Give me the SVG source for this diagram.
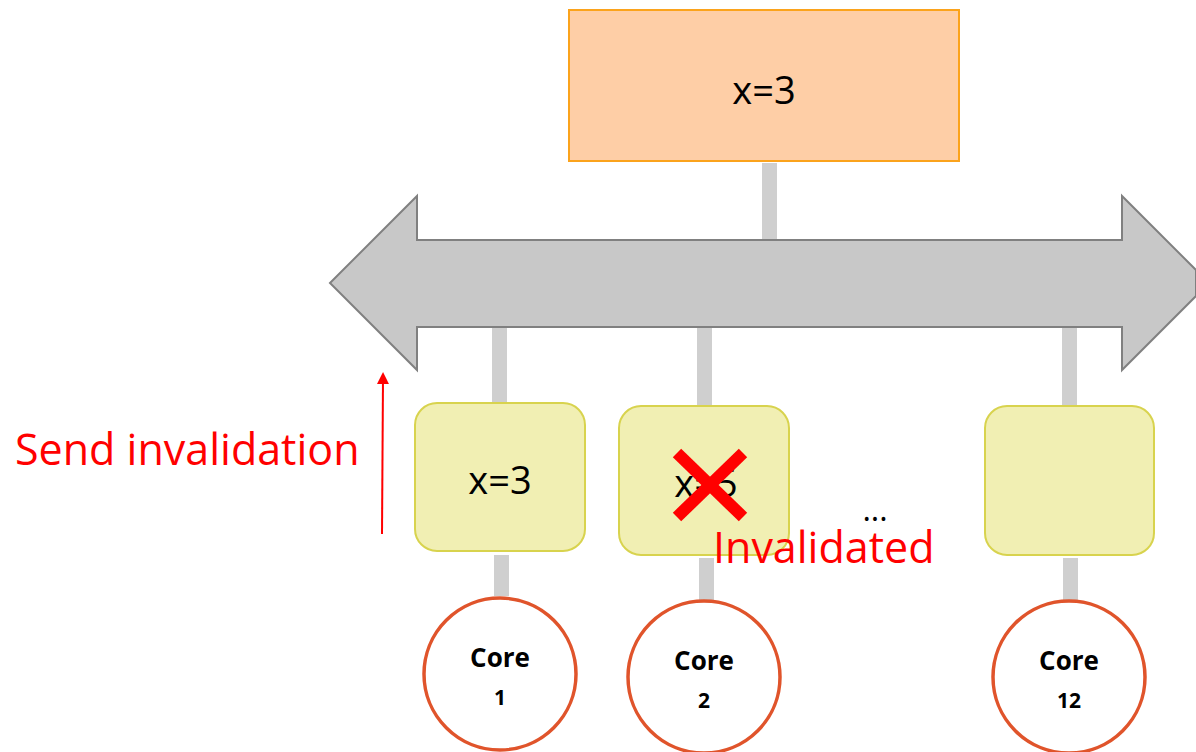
<svg xmlns="http://www.w3.org/2000/svg" width="1196" height="752" viewBox="0 0 1196 752">
  <style>
    .wire { fill: #cfcfcf; }
    .cache { fill: #f1efb3; stroke: #d8d34e; stroke-width: 2; }
    .core { fill: #ffffff; stroke: #e0542b; stroke-width: 3.5; }
    .val { font-family: "Open Sans", "Noto Sans", sans-serif; font-size: 38px; fill: #000; text-anchor: middle; }
    .corelbl { font-family: "Open Sans", "Noto Sans", sans-serif; font-weight: bold; fill: #000; text-anchor: middle; }
    .note { font-family: "Open Sans", "Noto Sans", sans-serif; font-size: 43px; fill: #ff0000; }
  </style>
  <defs>
    <marker id="redHead" viewBox="0 0 10 10" refX="5" refY="5" markerWidth="6" markerHeight="6" orient="auto">
      <path d="M0,0 L10,5 L0,10 z" fill="#ff0000"/>
    </marker>
  </defs>

  <!-- connectors -->
  <g id="connectors">
    <rect class="wire" x="762" y="163" width="15" height="78"/>
    <rect class="wire" x="492" y="327" width="15" height="76"/>
    <rect class="wire" x="697" y="327" width="15" height="79"/>
    <rect class="wire" x="1062" y="327" width="15" height="79"/>
    <rect class="wire" x="494" y="555" width="15" height="41"/>
    <rect class="wire" x="699" y="558" width="15" height="42"/>
    <rect class="wire" x="1063" y="558" width="15" height="42"/>
  </g>

  <!-- shared bus -->
  <g id="bus">
    <polygon points="330,283 417,196 417,240 1122,240 1122,196 1196,270 1196,296 1122,370 1122,327 417,327 417,370"
             fill="#c8c8c8" stroke="#808080" stroke-width="2"/>
  </g>

  <!-- memory -->
  <g id="memory">
    <rect x="569" y="10" width="390" height="151" fill="#fecea6" stroke="#fba31c" stroke-width="2"/>
    <text class="val" x="764" y="104" font-size="40">x=3</text>
  </g>

  <!-- caches -->
  <g id="cache1">
    <rect class="cache" x="415" y="403" width="170" height="148" rx="22"/>
    <text class="val" x="500" y="494">x=3</text>
  </g>
  <g id="cache2">
    <rect class="cache" x="619" y="406" width="170" height="149" rx="22"/>
    <text class="val" x="706" y="497">x=5</text>
    <g stroke="#ff0000" stroke-width="12">
      <line x1="677" y1="453" x2="743" y2="517"/>
      <line x1="743" y1="453" x2="677" y2="517"/>
    </g>
  </g>
  <g id="cache12">
    <rect class="cache" x="985" y="406" width="169" height="149" rx="22"/>
  </g>

  <!-- cores -->
  <g id="core1">
    <circle class="core" cx="500" cy="674" r="76"/>
    <text class="corelbl" x="500" y="667" font-size="26">Core</text>
    <text class="corelbl" x="500" y="705" font-size="21">1</text>
  </g>
  <g id="core2">
    <circle class="core" cx="704" cy="677" r="76"/>
    <text class="corelbl" x="704" y="670" font-size="26">Core</text>
    <text class="corelbl" x="704" y="708" font-size="21">2</text>
  </g>
  <g id="core12">
    <circle class="core" cx="1069" cy="677" r="76"/>
    <text class="corelbl" x="1069" y="670" font-size="26">Core</text>
    <text class="corelbl" x="1069" y="708" font-size="21">12</text>
  </g>

  <!-- annotations -->
  <g id="annotations">
    <text class="note" x="15" y="465">Send invalidation</text>
    <line x1="382" y1="534" x2="383" y2="378" stroke="#ff0000" stroke-width="2" marker-end="url(#redHead)"/>
    <text class="note" x="713" y="563">Invalidated</text>
    <text x="875" y="521" font-family="Open Sans, sans-serif" font-size="32" fill="#000" text-anchor="middle">...</text>
  </g>
</svg>
